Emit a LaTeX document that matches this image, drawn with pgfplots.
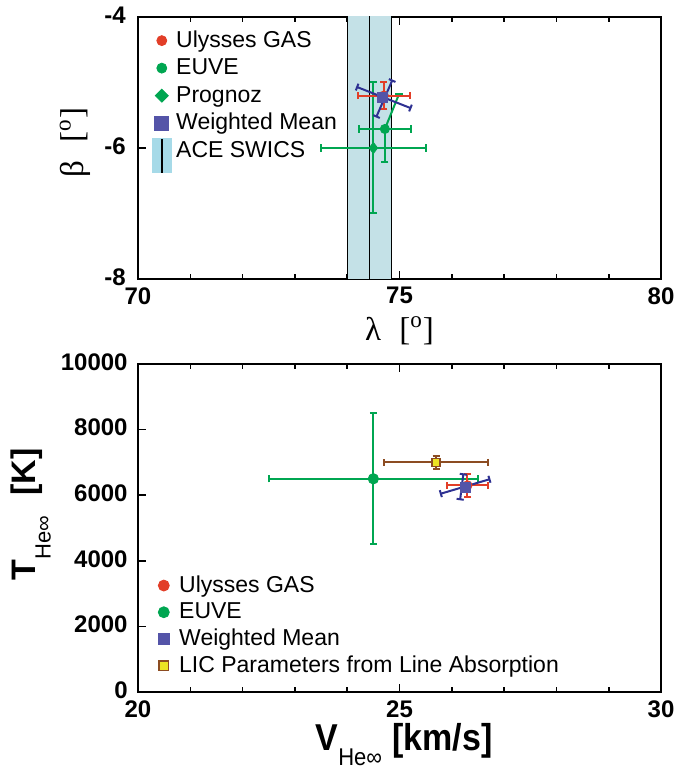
\documentclass[border=0pt]{standalone}
\usepackage{pgfplots}
\pgfplotsset{compat=1.18}
\usepackage{fontspec}
\setmainfont{Liberation Sans}
\newfontfamily\serif{Liberation Serif}

\definecolor{ured}{RGB}{226,62,40}
\definecolor{ugreen}{RGB}{0,166,81}
\definecolor{ublue}{RGB}{46,49,146}
\definecolor{umean}{RGB}{84,84,168}
\definecolor{ubrown}{RGB}{140,76,34}
\definecolor{uyellow}{RGB}{236,228,36}
\definecolor{aceband}{RGB}{196,225,231}
\definecolor{acekey}{RGB}{166,218,232}

\pgfplotsset{
  panel/.style={
    scale only axis, width=261.5pt, anchor=south west,
    axis line style={line width=0.9pt},
    tick style={line width=0.8pt, black},
    major tick length=4pt, minor tick length=2.5pt,
    tick align=inside, ytick pos=left, xtick pos=both,
    tick label style={font=\fontsize{12}{12}\selectfont\bfseries, inner sep=0pt},
    xticklabel style={yshift=-4pt},
    legend cell align=left,
  },
  ebar/.style={
    error bars/x dir=both, error bars/x explicit,
    error bars/y dir=both, error bars/y explicit,
    error bars/error bar style={line width=1pt, #1},
    error bars/error mark options={rotate=90, #1, line width=1pt, mark size=1.8pt},
  },
  legcircle/.style 2 args={legend image code/.code={\path (-3.5pt,0pt) (3.5pt,0pt); \fill[#1] (0pt,0pt) circle (#2);}},
  legdiamond/.style={legend image code/.code={\path (-3.5pt,0pt) (3.5pt,0pt); \fill[#1] (0pt,3.25pt) -- (3.25pt,0pt) -- (0pt,-3.25pt) -- (-3.25pt,0pt) -- cycle;}},
  legsquare/.style 2 args={legend image code/.code={\path (-3.5pt,0pt) (3.5pt,0pt); \fill[#1] (-#2,-#2) rectangle (#2,#2);}},
  leglic/.style={legend image code/.code={\path (-3.5pt,0pt) (3.5pt,0pt); \filldraw[fill=uyellow, draw=ubrown, line width=0.8pt] (-2.4pt,-2.4pt) rectangle (2.4pt,2.4pt);}},
  legace/.style={legend image code/.code={\path (-3.5pt,0pt) (3.5pt,0pt); \fill[acekey, overlay] (-4.75pt,-11pt) rectangle (4.75pt,6pt); \draw[black, line width=0.8pt, overlay] (0pt,-11pt) -- (0pt,6pt);}},
}

\begin{document}
\begin{tikzpicture}
\useasboundingbox (0pt,0pt) rectangle (337.5pt,384.5pt);

% upward direction: ecliptic longitude and latitude
\begin{axis}[panel, at={(69pt,245pt)}, height=131pt,
  xmin=70, xmax=80, ymin=-8, ymax=-4,
  xtick={70,75,80}, xticklabels={70,75,80},
  minor xtick={71,72,73,74,76,77,78,79},
  ytick={-8,-6,-4}, yticklabels={-8,-6,-4},
  yticklabel style={xshift=-6pt, yshift=1pt},
  xlabel={\serif\fontsize{16.5}{16.5}\selectfont λ\hspace{0.55em}[\textsuperscript{o}]},
  ylabel={\serif\fontsize{16.5}{16.5}\selectfont β\hspace{0.55em}[\textsuperscript{o}]},
  xlabel style={at={(axis description cs:0.5,-0.198)}, anchor=center},
  ylabel style={at={(axis description cs:-0.1205,0.521)}, anchor=center},
  legend style={at={(rel axis cs:0,1)}, anchor=north west, xshift=8pt, yshift=-4.75pt,
    draw=none, fill=none, inner sep=0pt, row sep=0pt, column sep=2.5pt,
    font=\fontsize{11.5}{13}\selectfont,
    nodes={inner sep=1pt, text height=9.25pt, text depth=2.5pt}},
]
\addlegendimage{legcircle={ured}{2.5pt}}
\addlegendimage{legcircle={ugreen}{2.5pt}}
\addlegendimage{legdiamond=ugreen}
\addlegendimage{legsquare={umean}{3.5pt}}
\addlegendimage{legace}

% ACE SWICS band and its centre
\addplot[draw=black, line width=0.7pt, fill=aceband, forget plot]
  coordinates {(74.0,-8.3) (74.0,-3.7) (74.85,-3.7) (74.85,-8.3)};
\addplot[black, line width=0.7pt, forget plot]
  coordinates {(74.43,-8.3) (74.43,-3.7)};

% Prognoz
\addplot[ugreen, only marks, mark=diamond*, mark size=2.8pt, ebar=ugreen, forget plot]
  coordinates {(74.5,-6.0) +- (1.0,1.0)};

% EUVE
\addplot[ugreen, only marks, mark=*, mark size=2.3pt, forget plot,
  error bars/x dir=both, error bars/x explicit,
  error bars/y dir=minus, error bars/y explicit,
  error bars/error bar style={line width=1pt, ugreen},
  error bars/error mark options={rotate=90, ugreen, line width=1pt, mark size=1.8pt}]
  coordinates {(74.72,-5.71) +- (0.5,0.5)};
\addplot[ugreen, line width=1pt, mark=-, mark size=1.8pt, mark indices={2}, forget plot]
  coordinates {(74.72,-5.71) (74.99,-5.18)};

% Ulysses GAS
\addplot[ured, only marks, mark=*, mark size=2.3pt, ebar=ured, forget plot]
  coordinates {(74.7,-5.2) +- (0.5,0.2)};

% weighted mean, tilted error axes
\addplot[ublue, line width=1pt, mark=|, mark size=1.8pt, mark options={rotate=-21.5, line width=1pt}, forget plot]
  coordinates {(74.19,-5.07) (75.21,-5.39)};
\addplot[ublue, line width=1pt, mark=|, mark size=1.8pt, mark options={rotate=66.4, line width=1pt}, forget plot]
  coordinates {(74.56,-5.52) (74.86,-4.97)};
\addplot[umean, only marks, mark=square*, mark size=2.5pt, forget plot]
  coordinates {(74.67,-5.23)};

\legend{Ulysses GAS, EUVE, Prognoz, Weighted Mean, ACE SWICS}
\end{axis}

% speed and temperature
\begin{axis}[panel, at={(69pt,38.5pt)}, height=164pt,
  xmin=20, xmax=30, ymin=0, ymax=10000,
  xtick={20,25,30}, xticklabels={20,25,30},
  minor xtick={21,22,23,24,26,27,28,29},
  ytick={0,2000,4000,6000,8000,10000},
  yticklabels={0,2000,4000,6000,8000,10000},
  scaled y ticks=false,
  yticklabel style={xshift=-5pt, yshift=1pt},
  xlabel={\fontsize{17}{17}\selectfont\bfseries V\raisebox{-7pt}{\fontsize{11}{11}\selectfont\mdseries He∞}\hspace{0.3em}[km/s]},
  ylabel={\fontsize{17}{17}\selectfont\bfseries T\raisebox{-7.5pt}{\fontsize{11}{11}\selectfont\mdseries He∞}\hspace{0.6em}[K]},
  xlabel style={at={(axis description cs:0.5086,-0.161)}, anchor=center, yscale=1.1, inner sep=0pt},
  ylabel style={at={(axis description cs:-0.2046,0.541)}, anchor=center},
  legend style={at={(rel axis cs:0,0)}, anchor=south west, xshift=9pt, yshift=6.3pt,
    draw=none, fill=none, inner sep=0pt, row sep=0pt, column sep=3pt,
    font=\fontsize{11.5}{13}\selectfont,
    nodes={inner sep=1pt, text height=9pt, text depth=2.35pt}},
]
\addlegendimage{legcircle={ured}{2.75pt}}
\addlegendimage{legcircle={ugreen}{2.75pt}}
\addlegendimage{legsquare={umean}{2.75pt}}
\addlegendimage{leglic}

% EUVE
\addplot[ugreen, only marks, mark=*, mark size=2.6pt, ebar=ugreen, forget plot]
  coordinates {(24.5,6500) +- (2.0,2000)};

% LIC parameters from line absorption
\addplot[ubrown, only marks, mark=square*, mark size=2pt,
  mark options={fill=uyellow, draw=ubrown, line width=0.8pt}, ebar=ubrown, forget plot]
  coordinates {(25.7,7000) +- (1.0,200)};

% Ulysses GAS
\addplot[ured, only marks, mark=*, mark size=2.3pt, ebar=ured, forget plot]
  coordinates {(26.3,6300) +- (0.4,350)};

% weighted mean
\addplot[ublue, line width=1pt, mark=|, mark size=1.8pt, mark options={rotate=16.4, line width=1pt}, forget plot]
  coordinates {(25.79,6046) (26.72,6485)};
\addplot[ublue, line width=1pt, mark=|, mark size=1.8pt, mark options={rotate=82, line width=1pt}, forget plot]
  coordinates {(26.16,5875) (26.22,6637)};
\addplot[umean, only marks, mark=square*, mark size=2.5pt, forget plot]
  coordinates {(26.26,6250)};

\legend{Ulysses GAS, EUVE, Weighted Mean, LIC Parameters from Line Absorption}
\end{axis}
\end{tikzpicture}
\end{document}
